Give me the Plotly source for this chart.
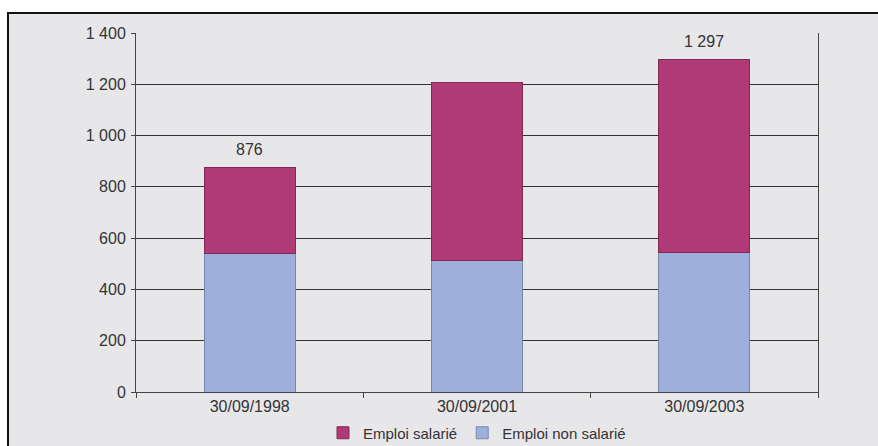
import plotly.graph_objects as go

categories = ["30/09/1998", "30/09/2001", "30/09/2003"]
emploi_non_salarie = [540, 511, 545]
emploi_salarie = [336, 697, 752]
total_labels = ["876", "", "1 297"]
y_ticks = [0, 200, 400, 600, 800, 1000, 1200, 1400]

C_SAL = "#B03A76"
C_NSAL = "#9DAFDA"
BG = "#E7E7E9"
FONT = "Liberation Sans, Arial, sans-serif"

fig = go.Figure()
fig.add_trace(go.Bar(
    x=categories, y=emploi_non_salarie, name="Emploi non salarié",
    marker=dict(color=C_NSAL, line=dict(color="#7A88A8", width=1)),
    legendrank=2,
))
fig.add_trace(go.Bar(
    x=categories, y=emploi_salarie, name="Emploi salarié",
    marker=dict(color=C_SAL, line=dict(color="#7E2A55", width=1)),
    legendrank=1,
))

totals = [a + b for a, b in zip(emploi_non_salarie, emploi_salarie)]
for c, t, lab in zip(categories, totals, total_labels):
    if lab:
        fig.add_annotation(x=c, y=t, text=lab, showarrow=False, yanchor="bottom",
                           yshift=7, font=dict(family=FONT, size=16, color="#333333"))

# outer frame
fig.add_shape(type="rect", xref="paper", yref="paper",
              x0=(8 - 136) / 682, x1=1.5, y0=-0.5, y1=(392 - 13) / 359,
              line=dict(color="#111111", width=2), fillcolor=BG, layer="below")

fig.update_layout(
    width=878, height=446,
    margin=dict(l=136, r=60, t=33, b=54, autoexpand=False),
    paper_bgcolor="white", plot_bgcolor=BG,
    barmode="stack", bargap=0.6,
    separators=", ",
    font=dict(family=FONT, size=16, color="#333333"),
    showlegend=True,
    legend=dict(orientation="h", x=0.5, xanchor="center",
                yref="container", y=(446 - 433) / 446, yanchor="middle",
                font=dict(family=FONT, size=15, color="#333333"),
                bgcolor="rgba(0,0,0,0)", itemwidth=30, traceorder="normal",
                tracegroupgap=0),
    xaxis=dict(showline=True, linecolor="#444444", linewidth=1,
               ticks="outside", ticklen=5, tickcolor="#444444",
               tickson="boundaries", showgrid=False,
               tickfont=dict(family=FONT, size=16, color="#333333")),
    yaxis=dict(range=[0, 1400], tickvals=y_ticks, tickformat=",d",
               showline=True, linecolor="#444444", linewidth=1, mirror=True,
               ticks="outside", ticklen=4, tickcolor="#444444",
               showgrid=True, gridcolor="#333333", gridwidth=1,
               zeroline=False, ticklabelstandoff=2,
               tickfont=dict(family=FONT, size=16, color="#333333")),
)

fig.write_html("out.html")
